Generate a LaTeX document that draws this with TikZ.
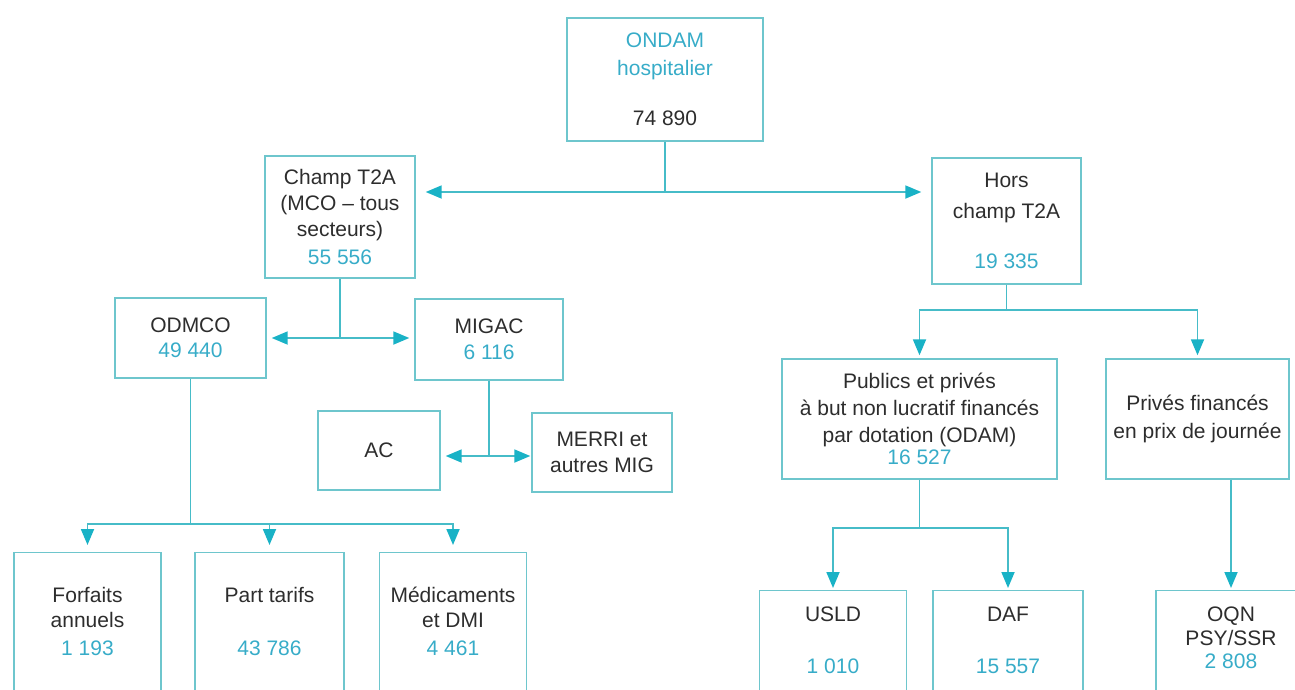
\documentclass[tikz,border=0pt]{standalone}
\usepackage{fontspec}
\setmainfont{Liberation Sans}
\usetikzlibrary{arrows.meta,calc}

\definecolor{frame}{RGB}{110,198,205}
\definecolor{link}{RGB}{70,188,200}
\definecolor{tipc}{RGB}{25,178,198}
\definecolor{num}{RGB}{55,172,200}
\definecolor{ink}{RGB}{45,45,45}

\newcommand\numv[1]{\textcolor{num}{#1}}

\begin{document}
\begin{tikzpicture}[x=1pt,y=-1pt,
  txt/.style={align=center, text=ink, font=\fontsize{21}{26}\selectfont},
  box/.style={txt, draw=frame, line width=1.4pt, inner sep=0pt},
  sz/.style 2 args={minimum width=#1pt, minimum height=#2pt},
  lowbox/.style={draw=frame, line width=1.4pt, inner sep=0pt, anchor=north,
                 minimum width=#1pt, minimum height=170pt},
  inlab/.style={txt, inner sep=0pt, anchor=north},
  wire/.style={draw=link, line width=1.8pt},
  arr/.style={wire, -{Triangle[length=16pt,width=13pt,color=tipc]}}
]
\useasboundingbox (0,0) rectangle (1295,689);
\clip (0,0) rectangle (1295,689);

% upper levels
\node[box, sz={196}{123}] (ondam) at (665,79.5)
  {\numv{ONDAM}\\[2pt]\numv{hospitalier}\\[24pt]74~890};
\node[box, sz={150}{122}] (champ) at (340,217)
  {Champ T2A\\(MCO \textendash{} tous\\secteurs)\\[2pt]\numv{55~556}};
\node[box, sz={149}{126}] (hors) at (1006.5,221)
  {Hors\\[5pt]champ T2A\\[24pt]\numv{19~335}};

\node[box, sz={151}{80}] (odmco) at (190.5,338) {ODMCO\\[-1pt]\numv{49~440}};
\node[box, sz={148}{81}] (migac) at (489,339.5) {MIGAC\\\numv{6~116}};
\node[box, sz={122}{79}] (ac) at (379,450.5) {AC};
\node[box, sz={140}{79}] (merri) at (602,452.5) {MERRI et\\autres MIG};

\node[box, sz={275}{120}] (publics) at (919.5,419)
  {Publics et privés\\[1pt]à but non lucratif financés\\[1pt]par dotation (ODAM)\\[-4pt]\numv{16~527}};
\node[box, sz={183}{120}] (prives) at (1197.5,419)
  {Privés financés\\[2pt]en prix de journée};

% bottom row (boxes run past the lower edge)
\node[lowbox=147] (forfaits) at (87.5,552)
  [label={[inlab, yshift=-32.5pt]north:{\rule{0pt}{18pt}Forfaits\\[-1pt]annuels\\[2pt]\numv{1~193}}}] {};
\node[lowbox=149] (tarifs) at (269.5,552)
  [label={[inlab, yshift=-32.5pt]north:{\rule{0pt}{18pt}Part tarifs\\[27pt]\numv{43~786}}}] {};
\node[lowbox=147] (medic) at (453,552)
  [label={[inlab, yshift=-32.5pt]north:{\rule{0pt}{18pt}Médicaments\\[-1pt]et DMI\\[2pt]\numv{4~461}}}] {};

\node[lowbox=147] (usld) at (833,590)
  [label={[inlab, yshift=-13.5pt]north:{\rule{0pt}{18pt}USLD\\[26pt]\numv{1~010}}}] {};
\node[lowbox=150] (daf) at (1008,590)
  [label={[inlab, yshift=-13.5pt]north:{\rule{0pt}{18pt}DAF\\[26pt]\numv{15~557}}}] {};
\node[lowbox=150] (oqn) at (1231,590)
  [label={[inlab, yshift=-13.5pt]north:{\rule{0pt}{18pt}OQN\\[-2pt]PSY/SSR\\[-3pt]\numv{2~808}}}] {};

% junction points
\coordinate (j1) at (665,192);
\coordinate (j2) at (340,338);
\coordinate (j3) at (489,456);
\coordinate (j4) at (190.5,524);
\coordinate (j5) at (1006.5,310);
\coordinate (j6) at (919.5,528);

% connectors
\draw[wire] (ondam.south) -- (j1);
\draw[arr, shorten >=10pt] (j1) -- (champ.east |- j1);
\draw[arr, shorten >=10pt] (j1) -- (hors.west |- j1);

\draw[wire] (champ.south) -- (j2);
\draw[arr, shorten >=5pt] (j2) -- (odmco.east |- j2);
\draw[arr, shorten >=5pt] (j2) -- (migac.west |- j2);

\draw[wire] (migac.south) -- (j3);
\draw[arr, shorten >=5pt] (j3) -- (ac.east |- j3);
\draw[arr, shorten >=1pt] (j3) -- (merri.west |- j3);

\draw[wire] (odmco.south) -- (j4);
\draw[arr, shorten >=7pt] (j4) -| (forfaits.north);
\draw[arr, shorten >=7pt] (j4) -| (medic.north);
\draw[arr, shorten >=7pt] (tarifs.north |- j4) -- (tarifs.north);

\draw[wire] (hors.south) -- (j5);
\draw[arr, shorten >=3pt] (j5) -| (publics.north);
\draw[arr, shorten >=3pt] (j5) -| (prives.north);

\draw[wire] (publics.south) -- (j6);
\draw[arr, shorten >=2pt] (j6) -| (usld.north);
\draw[arr, shorten >=2pt] (j6) -| (daf.north);

\draw[arr, shorten >=2pt] (oqn.north |- prives.south) -- (oqn.north);
\end{tikzpicture}
\end{document}
